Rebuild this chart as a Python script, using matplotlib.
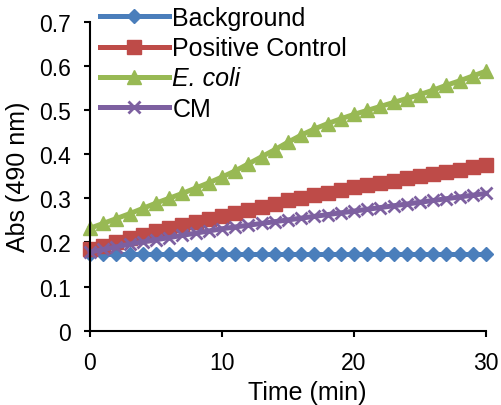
import matplotlib
matplotlib.use("Agg")
import matplotlib.pyplot as plt

plt.rcParams['font.family'] = ['Liberation Sans', 'DejaVu Sans']

time_min = list(range(31))
background = [0.173] * 31
positive_control = [0.185, 0.193, 0.201, 0.209, 0.217, 0.225, 0.232, 0.239, 0.246, 0.253,
                    0.260, 0.267, 0.274, 0.281, 0.288, 0.295, 0.301, 0.307, 0.313, 0.319,
                    0.325, 0.330, 0.335, 0.340, 0.345, 0.350, 0.355, 0.360, 0.365, 0.370, 0.376]
e_coli = [0.232, 0.243, 0.254, 0.265, 0.277, 0.289, 0.300, 0.311, 0.323, 0.335,
          0.348, 0.362, 0.378, 0.394, 0.410, 0.427, 0.443, 0.457, 0.469, 0.480,
          0.490, 0.499, 0.508, 0.517, 0.526, 0.535, 0.545, 0.556, 0.566, 0.577, 0.588]
cm = [0.178, 0.184, 0.190, 0.196, 0.201, 0.206, 0.211, 0.216, 0.221, 0.226,
      0.231, 0.235, 0.239, 0.243, 0.247, 0.251, 0.255, 0.259, 0.263, 0.267,
      0.271, 0.275, 0.279, 0.283, 0.287, 0.291, 0.295, 0.299, 0.303, 0.307, 0.311]
labels = ["Background", "Positive Control", "E. coli", "CM"]
x_ticks = [0, 10, 20, 30]
y_ticks = [0, 0.1, 0.2, 0.3, 0.4, 0.5, 0.6, 0.7]
y_tick_labels = ["0", "0.1", "0.2", "0.3", "0.4", "0.5", "0.6", "0.7"]

fig = plt.figure(figsize=(5.02, 4.06), dpi=100)
ax = fig.add_axes([90/502, 1-331.7/406, (486-90)/502, (331.7-22.7)/406])

lw = 3.6
ax.plot(time_min, background, color='#4A7EBB', lw=lw, marker='D', ms=7, mec='#4A7EBB', label=labels[0])
ax.plot(time_min, positive_control, color='#BE4B48', lw=lw, marker='s', ms=10, mec='#BE4B48', label=labels[1])
ax.plot(time_min, e_coli, color='#98B954', lw=lw, marker='^', ms=10, mec='#98B954', label=labels[2])
ax.plot(time_min, cm, color='#7D60A0', lw=lw, marker='x', ms=8, mew=2, mec='#7D60A0', label=labels[3])

ax.set_xlim(0, 30)
ax.set_ylim(0, 0.7)
ax.set_xticks(x_ticks)
ax.set_yticks(y_ticks)
ax.set_yticklabels(y_tick_labels)
ax.spines['top'].set_visible(False)
ax.spines['right'].set_visible(False)
for s in ['left', 'bottom']:
    ax.spines[s].set_linewidth(1.5)
    ax.spines[s].set_clip_on(False)
ax.tick_params(direction='out', length=4.5, width=1.5, labelsize=16.5)
ax.tick_params(axis='x', pad=10)
ax.tick_params(axis='y', pad=9)
ax.set_xlabel("Time (min)", fontsize=18, labelpad=3)
ax.xaxis.set_label_coords((307 - 90) / 396, -0.16)
ax.xaxis.label.set_va('top')
ax.set_ylabel("Abs (490 nm)", fontsize=18, labelpad=7)
for line in ax.lines:
    line.set_clip_on(False)

leg = ax.legend(loc='upper left', bbox_to_anchor=(100/502, 1-7/406),
                bbox_transform=fig.transFigure, frameon=False, fontsize=18,
                handlelength=2.75, handletextpad=0.15, labelspacing=0.25,
                borderpad=0, borderaxespad=0, numpoints=1)
leg.get_texts()[2].set_style('italic')

fig.savefig("out.png", dpi=100)
